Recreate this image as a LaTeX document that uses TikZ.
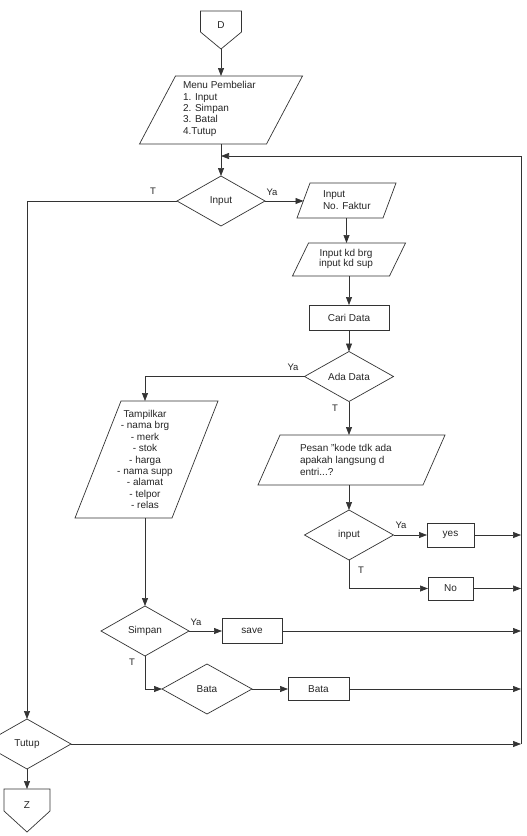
\documentclass[tikz,border=0pt]{standalone}
\usepackage{fontspec}
\setmainfont{Liberation Sans}
\usetikzlibrary{shapes.geometric,arrows.meta}
\begin{document}
\begin{tikzpicture}[x=1pt,y=-1pt,
  line width=0.7pt, color=black!80,
  every node/.style={font=\fontsize{10}{11.3}\selectfont, text=black!85, inner sep=0pt, outer sep=0pt},
  arr/.style={-{Triangle[length=8pt,width=6pt]}},
  dec/.style={draw, diamond, minimum width=#1, minimum height=50},
  dec/.default=88,
  proc/.style={draw, rectangle},
  lbl/.style={font=\fontsize{9.5}{10}\selectfont}
]
\useasboundingbox (0,0) rectangle (527,836);
\fill[white] (0,0) rectangle (527,836);
\clip (0,0) rectangle (527,836);

% connector D
\node[minimum width=41, minimum height=38] (D) at (221,30) {};
\draw (D.north west) -- (D.north east) -- ([yshift=-21pt]D.north east) -- (D.south) -- ([yshift=-21pt]D.north west) -- cycle;
\node (Dt) at (221,25) {D};

% menu (parallelogram, slant 36)
\node[minimum width=127, minimum height=68] (Menu) at (221,110) {};
\draw ([xshift=18pt]Menu.north west) -- ([xshift=18pt]Menu.north east) -- ([xshift=-18pt]Menu.south east) -- ([xshift=-18pt]Menu.south west) -- cycle;
\node[align=left, anchor=west] (MenuT) at (183,109) {Menu Pembeliar\\1. Input\\2. Simpan\\3. Batal\\4.Tutup};

\node[dec] (In) at (221,201) {Input};

% faktur (slant 13)
\node[minimum width=86, minimum height=35] (Fak) at (346.5,200.5) {};
\draw ([xshift=6.5pt]Fak.north west) -- ([xshift=6.5pt]Fak.north east) -- ([xshift=-6.5pt]Fak.south east) -- ([xshift=-6.5pt]Fak.south west) -- cycle;
\node[align=left, anchor=west, font=\fontsize{10}{12}\selectfont] (FakT) at (323,200) {Input\\No. Faktur};

% kd (slant 16)
\node[minimum width=97, minimum height=33] (Kd) at (349,259.5) {};
\draw ([xshift=8pt]Kd.north west) -- ([xshift=8pt]Kd.north east) -- ([xshift=-8pt]Kd.south east) -- ([xshift=-8pt]Kd.south west) -- cycle;
\node[align=center, font=\fontsize{10}{10.5}\selectfont] (KdT) at (346,259) {Input kd brg\\input kd sup};

\node[proc, minimum width=80, minimum height=25] (Cari) at (349,317.5) {Cari Data};

\node[dec=89] (Ada) at (349,376.5) {Ada Data};

% tampilkan (slant 46)
\node[minimum width=97, minimum height=117] (Tamp) at (146.5,459.5) {};
\draw ([xshift=23pt]Tamp.north west) -- ([xshift=23pt]Tamp.north east) -- ([xshift=-23pt]Tamp.south east) -- ([xshift=-23pt]Tamp.south west) -- cycle;
\node[align=center, font=\fontsize{10}{11.4}\selectfont] (TampT) at (145,459.5) {Tampilkar\\- nama brg\\- merk\\- stok\\- harga\\- nama supp\\- alamat\\- telpor\\- relas};

% pesan (slant 22)
\node[minimum width=165, minimum height=50] (Pes) at (351.5,460) {};
\draw ([xshift=11pt]Pes.north west) -- ([xshift=11pt]Pes.north east) -- ([xshift=-11pt]Pes.south east) -- ([xshift=-11pt]Pes.south west) -- cycle;
\node[align=left, anchor=west, font=\fontsize{10}{12}\selectfont] (PesT) at (300,460) {Pesan "kode tdk ada\\apakah langsung d\\entri...?};

\node[dec=89] (Ind) at (349,535) {input};
\node[proc, minimum width=47, minimum height=24] (Yes) at (450.5,535) {yes};
\node[proc, minimum width=45, minimum height=23] (No) at (450.5,588.5) {No};

\node[dec] (Sim) at (145,631) {Simpan};
\node[proc, minimum width=60, minimum height=25] (Save) at (252,631) {save};
\node[dec=90] (Bd) at (207,689) {Bata};
\node[proc, minimum width=61, minimum height=23] (Br) at (318.5,689) {Bata};

\node[dec] (Tut) at (27,744) {Tutup};

\node[minimum width=46, minimum height=43] (Z) at (27,810.5) {};
\draw (Z.north west) -- (Z.north east) -- ([yshift=-22pt]Z.north east) -- (Z.south) -- ([yshift=-22pt]Z.north west) -- cycle;
\node (Zt) at (27,805) {Z};

\coordinate (R1) at (521,156);
\coordinate (R2) at (521,744);

% connectors
\draw[arr] (D.south) -- (D.south |- Menu.north);
\draw[arr] (Menu.south) -- (In.north);
\draw[arr] (R2) -- (R1) -- (Menu.south |- R1);
\draw[arr] (In.west) -| (Tut.north);
\draw[arr] (In.east) -- (In.east -| Fak.west);
\draw[arr] (Fak.south) -- (Fak.south |- Kd.north);
\draw[arr] (Kd.south) -- (Kd.south |- Cari.north);
\draw[arr] (Cari.south) -- (Ada.north);
\draw[arr] (Ada.west) -| (Sim.north |- Tamp.north);
\draw[arr] (Sim.north |- Tamp.south) -- (Sim.north);
\draw[arr] (Ada.south) -- (Ada.south |- Pes.north);
\draw[arr] (Ada.south |- Pes.south) -- (Ind.north);
\draw[arr] (Ind.east) -- (Yes.west);
\draw[arr] (Yes.east) -- (Yes.east -| R1);
\draw[arr] (Ind.south) |- (No.west);
\draw[arr] (No.east) -- (No.east -| R1);
\draw[arr] (Sim.east) -- (Save.west);
\draw[arr] (Save.east) -- (Save.east -| R1);
\draw[arr] (Sim.south) |- (Bd.west);
\draw[arr] (Bd.east) -- (Br.west);
\draw[arr] (Br.east) -- (Br.east -| R1);
\draw[arr] (Tut.east) -- (R2);
\draw[arr] (Tut.south) -- (Z.north);

% labels
\node[lbl] (l1) at (153,191) {T};
\node[lbl] (l2) at (272,192) {Ya};
\node[lbl] (l3) at (293,367) {Ya};
\node[lbl] (l4) at (335,408) {T};
\node[lbl] (l5) at (401,525) {Ya};
\node[lbl] (l6) at (361,570) {T};
\node[lbl] (l7) at (196,622) {Ya};
\node[lbl] (l8) at (132,662) {T};
\end{tikzpicture}
\end{document}
